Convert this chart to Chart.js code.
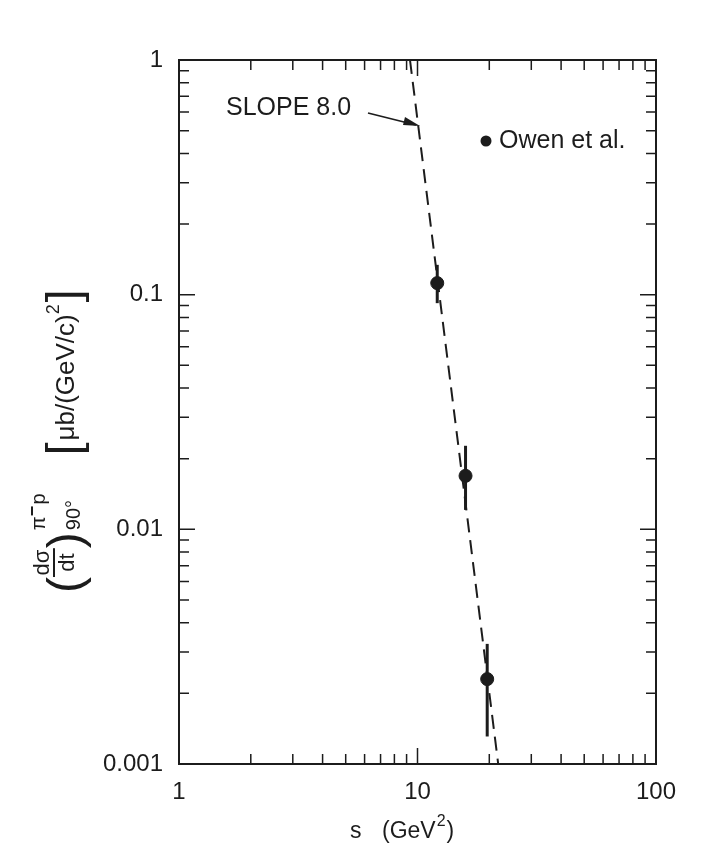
<!DOCTYPE html>
<html>
<head>
<meta charset="utf-8">
<script src="https://cdn.jsdelivr.net/npm/chart.js@4.4.1/dist/chart.umd.min.js"></script>
<style>
  html, body { margin: 0; padding: 0; background: #ffffff; }
  canvas { display: block; }
</style>
</head>
<body>
<canvas id="chart" width="721" height="856"></canvas>
<script>
// values
const sValues = [12.1, 15.9, 19.6];
const dsdt = [0.112, 0.0169, 0.0023];
const errHigh = [0.134, 0.0227, 0.00325];
const errLow = [0.092, 0.0121, 0.00131];

// dashed s^-8 line, two end points
const slopeS = [9.3, 21.8];
const slopeY = [1, 0.001];

const xTicks = [1, 10, 100];
const xTickLabels = ['1', '10', '100'];
const yTicks = [0.001, 0.01, 0.1, 1];
const yTickLabels = ['0.001', '0.01', '0.1', '1'];

const ink = '#1c1c1c';
const font = '"Liberation Sans", Arial, sans-serif';

function decadeTicks(min, max) {
    // minor + major tick values for a log axis
    const out = [];
    for (let d = min; d < max * 0.999; d *= 10) {
        for (let k = 1; k < 10; k++) {
            out.push({ v: d * k, major: k === 1 });
        }
    }
    out.push({ v: max, major: true });
    return out;
}

function drawYTitle(ctx) {
    ctx.save();
    ctx.translate(74, 593);
    ctx.rotate(-Math.PI / 2);
    ctx.fillStyle = ink;
    ctx.textAlign = 'left';
    ctx.textBaseline = 'alphabetic';
    let u = 0;

    ctx.font = '48px ' + font;
    ctx.fillText('(', u, 7);
    u += ctx.measureText('(').width;

    ctx.font = '22px ' + font;
    const wN = ctx.measureText('dσ').width;
    const wD = ctx.measureText('dt').width;
    const fw = Math.max(wN, wD) + 3;
    ctx.fillText('dσ', u + (fw - wN) / 2, -25);
    ctx.fillText('dt', u + (fw - wD) / 2, 0);
    ctx.fillRect(u, -21, fw, 2);
    u += fw;

    ctx.font = '48px ' + font;
    ctx.fillText(')', u, 7);
    u += ctx.measureText(')').width + 2;

    // superscript pi- p
    ctx.font = '20px ' + font;
    let su = u;
    ctx.fillText('π', su, -29);
    su += ctx.measureText('π').width;
    ctx.fillRect(su + 1, -43, 9, 2);
    su += 12;
    ctx.fillText('p', su, -29);
    su += ctx.measureText('p').width;

    // subscript 90°
    ctx.fillText('90°', u, 6);
    const subW = ctx.measureText('90°').width;
    u += Math.max(su - u, subW) + 38;

    ctx.font = '46px ' + font;
    ctx.fillText('[', u, 5);
    u += ctx.measureText('[').width + 2;

    ctx.font = '26px ' + font;
    ctx.fillText('μb/(GeV/c)', u, 0);
    u += ctx.measureText('μb/(GeV/c)').width;

    ctx.font = '18px ' + font;
    ctx.fillText('2', u, -15);
    u += ctx.measureText('2').width + 2;

    ctx.font = '46px ' + font;
    ctx.fillText(']', u, 5);
    ctx.restore();
}

const framePlugin = {
    id: 'frame',
    beforeDatasetsDraw(chart) {
        const ctx = chart.ctx;
        const xs = chart.scales.x, ys = chart.scales.y;
        ctx.save();
        ctx.strokeStyle = ink;
        ctx.lineWidth = 3;
        ctx.lineCap = 'butt';
        sValues.forEach((s, i) => {
            const px = xs.getPixelForValue(s);
            ctx.beginPath();
            ctx.moveTo(px, ys.getPixelForValue(errHigh[i]));
            ctx.lineTo(px, ys.getPixelForValue(errLow[i]));
            ctx.stroke();
        });
        ctx.restore();
    },
    afterDraw(chart) {
        const ctx = chart.ctx;
        const a = chart.chartArea;
        const xs = chart.scales.x, ys = chart.scales.y;
        ctx.save();
        ctx.strokeStyle = ink;
        ctx.lineWidth = 2;
        ctx.strokeRect(a.left, a.top, a.right - a.left, a.bottom - a.top);

        // inward ticks on all four sides
        ctx.lineWidth = 1.5;
        ctx.beginPath();
        decadeTicks(1, 100).forEach(t => {
            const px = xs.getPixelForValue(t.v);
            const len = t.major ? 16 : 10;
            ctx.moveTo(px, a.bottom); ctx.lineTo(px, a.bottom - len);
            ctx.moveTo(px, a.top); ctx.lineTo(px, a.top + len);
        });
        decadeTicks(0.001, 1).forEach(t => {
            const py = ys.getPixelForValue(t.v);
            const len = t.major ? 16 : 10;
            ctx.moveTo(a.left, py); ctx.lineTo(a.left + len, py);
            ctx.moveTo(a.right, py); ctx.lineTo(a.right - len, py);
        });
        ctx.stroke();

        // slope annotation
        ctx.fillStyle = ink;
        ctx.font = '25px ' + font;
        ctx.textAlign = 'left';
        ctx.textBaseline = 'middle';
        ctx.fillText('SLOPE 8.0', 226, 108);
        ctx.lineWidth = 1.8;
        ctx.beginPath();
        ctx.moveTo(368, 113);
        ctx.lineTo(416, 125);
        ctx.stroke();
        ctx.beginPath();
        ctx.moveTo(420, 126);
        ctx.lineTo(405, 117);
        ctx.lineTo(403, 125);
        ctx.closePath();
        ctx.fill();

        // legend
        ctx.beginPath();
        ctx.arc(486, 141, 5.5, 0, Math.PI * 2);
        ctx.fill();
        ctx.fillText('Owen et al.', 499, 141);

        // x axis title
        ctx.textAlign = 'left';
        ctx.textBaseline = 'alphabetic';
        ctx.font = '23px ' + font;
        ctx.fillText('s', 350, 838);
        ctx.fillText('(GeV', 382, 838);
        const w = ctx.measureText('(GeV').width;
        ctx.font = '16px ' + font;
        ctx.fillText('2', 382 + w + 1, 826);
        const w2 = ctx.measureText('2').width;
        ctx.font = '23px ' + font;
        ctx.fillText(')', 382 + w + w2 + 2, 838);

        drawYTitle(ctx);
        ctx.restore();
    }
};

new Chart(document.getElementById('chart'), {
    type: 'scatter',
    data: {
        datasets: [{
            label: 'Owen et al.',
            data: sValues.map((s, i) => ({ x: s, y: dsdt[i] })),
            backgroundColor: ink,
            borderColor: ink,
            pointRadius: 6.5,
            pointHoverRadius: 6.5,
            order: 0
        }, {
            label: 'slope 8.0',
            data: slopeS.map((s, i) => ({ x: s, y: slopeY[i] })),
            showLine: true,
            borderColor: ink,
            borderWidth: 2,
            borderDash: [14, 8],
            pointRadius: 0,
            order: 1
        }]
    },
    options: {
        responsive: false,
        animation: false,
        devicePixelRatio: 1,
        layout: { padding: { top: 60, right: 65, left: 0, bottom: 0 } },
        plugins: {
            legend: { display: false },
            tooltip: { enabled: false }
        },
        scales: {
            x: {
                type: 'logarithmic',
                position: 'bottom',
                min: 1,
                max: 100,
                grid: { display: false, drawTicks: false },
                border: { display: false },
                ticks: {
                    color: ink,
                    font: { size: 24, family: font },
                    padding: 14,
                    maxRotation: 0,
                    autoSkip: false,
                    callback: (v) => {
                        const i = xTicks.indexOf(v);
                        return i >= 0 ? xTickLabels[i] : '';
                    }
                },
                afterBuildTicks: (scale) => { scale.ticks = xTicks.map(v => ({ value: v })); },
                afterFit: (scale) => { scale.height = 92; }
            },
            y: {
                type: 'logarithmic',
                min: 0.001,
                max: 1,
                grid: { display: false, drawTicks: false },
                border: { display: false },
                ticks: {
                    color: ink,
                    font: { size: 24, family: font },
                    padding: 16,
                    autoSkip: false,
                    callback: (v) => {
                        const i = yTicks.findIndex(t => Math.abs(t - v) / t < 1e-6);
                        return i >= 0 ? yTickLabels[i] : '';
                    }
                },
                afterBuildTicks: (scale) => { scale.ticks = yTicks.map(v => ({ value: v })); },
                afterFit: (scale) => { scale.width = 179; }
            }
        }
    },
    plugins: [framePlugin]
});
</script>
</body>
</html>
